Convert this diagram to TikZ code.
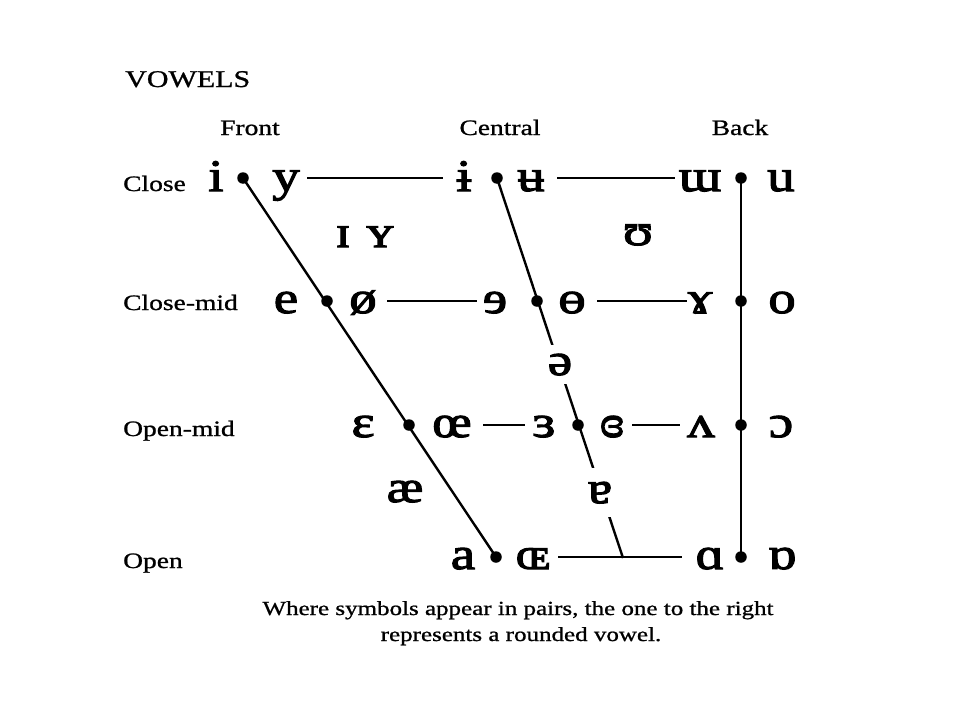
\documentclass[tikz,border=0pt]{standalone}
\usepackage{fontspec}
\setmainfont{Liberation Serif}[FakeStretch=1.25, FakeBold=1]
\newfontfamily\ipafont{Liberation Serif}[FakeStretch=1.22, FakeBold=2.5]
\begin{document}
\begin{tikzpicture}[x=1pt,y=-1pt,
  sym/.style={font=\ipafont\fontsize{45}{45}\selectfont, inner sep=0pt, anchor=base},
  lab/.style={font=\fontsize{22}{22}\selectfont, inner sep=0pt, anchor=base west},
  col/.style={font=\fontsize{22}{22}\selectfont, inner sep=0pt, anchor=base},
  captxt/.style={font=\fontsize{20}{20}\selectfont, inner sep=0pt, anchor=base},
  dotn/.style={circle, fill=black, inner sep=0pt, minimum size=11.5pt},
  hline/.style={line width=1.4pt},
  axis/.style={line width=2.4pt},
  gapmask/.style={fill=white, inner xsep=2pt}]
\fill[white] (0,0) rectangle (960,720);
\useasboundingbox (0,0) rectangle (960,720);

% headings
\node[lab, font=\fontsize{24}{24}\selectfont] (title) at (125,87) {VOWELS};
\node[col] (front) at (250,135) {Front};
\node[col] (central) at (500,135) {Central};
\node[col] (back) at (740,135) {Back};
\node[lab] (lclose) at (123,191) {Close};
\node[lab] (lclosemid) at (123,310) {Close-mid};
\node[lab] (lopenmid) at (123,436) {Open-mid};
\node[lab] (lopen) at (123,568) {Open};

% dots
\node[dotn] (fc) at (243,178) {};
\node[dotn] (cc) at (497,178) {};
\node[dotn] (bc) at (741,178) {};
\node[dotn] (fcm) at (327,301) {};
\node[dotn] (ccm) at (537,301) {};
\node[dotn] (bcm) at (741,301) {};
\node[dotn] (fom) at (409,425) {};
\node[dotn] (com) at (578,425) {};
\node[dotn] (bom) at (741,425) {};
\node[dotn] (fo) at (496,557) {};
\node[dotn] (bo) at (741,557) {};
\coordinate (cend) at (623,558);

% frame lines
\draw[axis] (fc.center) -- (fo.center);
\draw[axis] (cc.center) -- (cend);
\draw[axis] (bc.center) -- (bo.center);

% horizontal lines
\draw[hline] ([xshift=64]fc.center) -- ([xshift=-54]cc.center);
\draw[hline] ([xshift=60]cc.center) -- ([xshift=-66]bc.center);
\draw[hline] ([xshift=60]fcm.center) -- ([xshift=-60]ccm.center);
\draw[hline] ([xshift=60]ccm.center) -- ([xshift=-54]bcm.center);
\draw[hline] ([xshift=74]fom.center) -- ([xshift=-53]com.center);
\draw[hline] ([xshift=54]com.center) -- ([xshift=-61]bom.center);
\draw[hline] ([xshift=62]fo.center) -- ([xshift=-59]bo.center);

% close
\node[sym] (vi) at (216,191) {i};
\node[sym] (vy) at (286,191) {y};
\node[sym] (vibar) at (464,191) {ɨ};
\node[sym] (vubar) at (531,191) {ʉ};
\node[sym] (vturnm) at (700,191) {ɯ};
\node[sym] (vu) at (781,191) {u};
% near-close
\node[sym] (vsmi) at (343,247) {ɪ};
\node[sym] (vsmy) at (380,247) {ʏ};
\node[sym] (vups) at (638,245) {ʊ};
% close-mid
\node[sym] (ve) at (286,313) {e};
\node[sym] (voslash) at (363,313) {ø};
\node[sym] (vreve) at (495,313) {ɘ};
\node[sym] (vbaro) at (572,313) {ɵ};
\node[sym] (vrams) at (700,313) {ɤ};
\node[sym] (vo) at (782,313) {o};
% mid
\node[sym, gapmask, inner ysep=9pt] (vschwa) at (560,375) {ə};
% open-mid
\node[sym] (veps) at (363,437) {ɛ};
\node[sym] (voe) at (452,437) {œ};
\node[sym] (vreveps) at (544,437) {ɜ};
\node[sym] (vclreveps) at (612,437) {ɞ};
\node[sym] (vturnv) at (701,437) {ʌ};
\node[sym] (vopeno) at (781,437) {ɔ};
% near-open
\node[sym] (vae) at (405,502) {æ};
\node[sym, gapmask, inner ysep=14pt] (vturna) at (600,503) {ɐ};
% open
\node[sym] (va) at (463,569) {a};
\node[sym] (vsmoe) at (533,569) {ɶ};
\node[sym] (valpha) at (710,569) {ɑ};
\node[sym] (vturnalpha) at (782,569) {ɒ};

% caption
\node[captxt] (cap1) at (518,615) {Where symbols appear in pairs, the one to the right};
\node[captxt] (cap2) at (521,641) {represents a rounded vowel.};
\end{tikzpicture}
\end{document}
